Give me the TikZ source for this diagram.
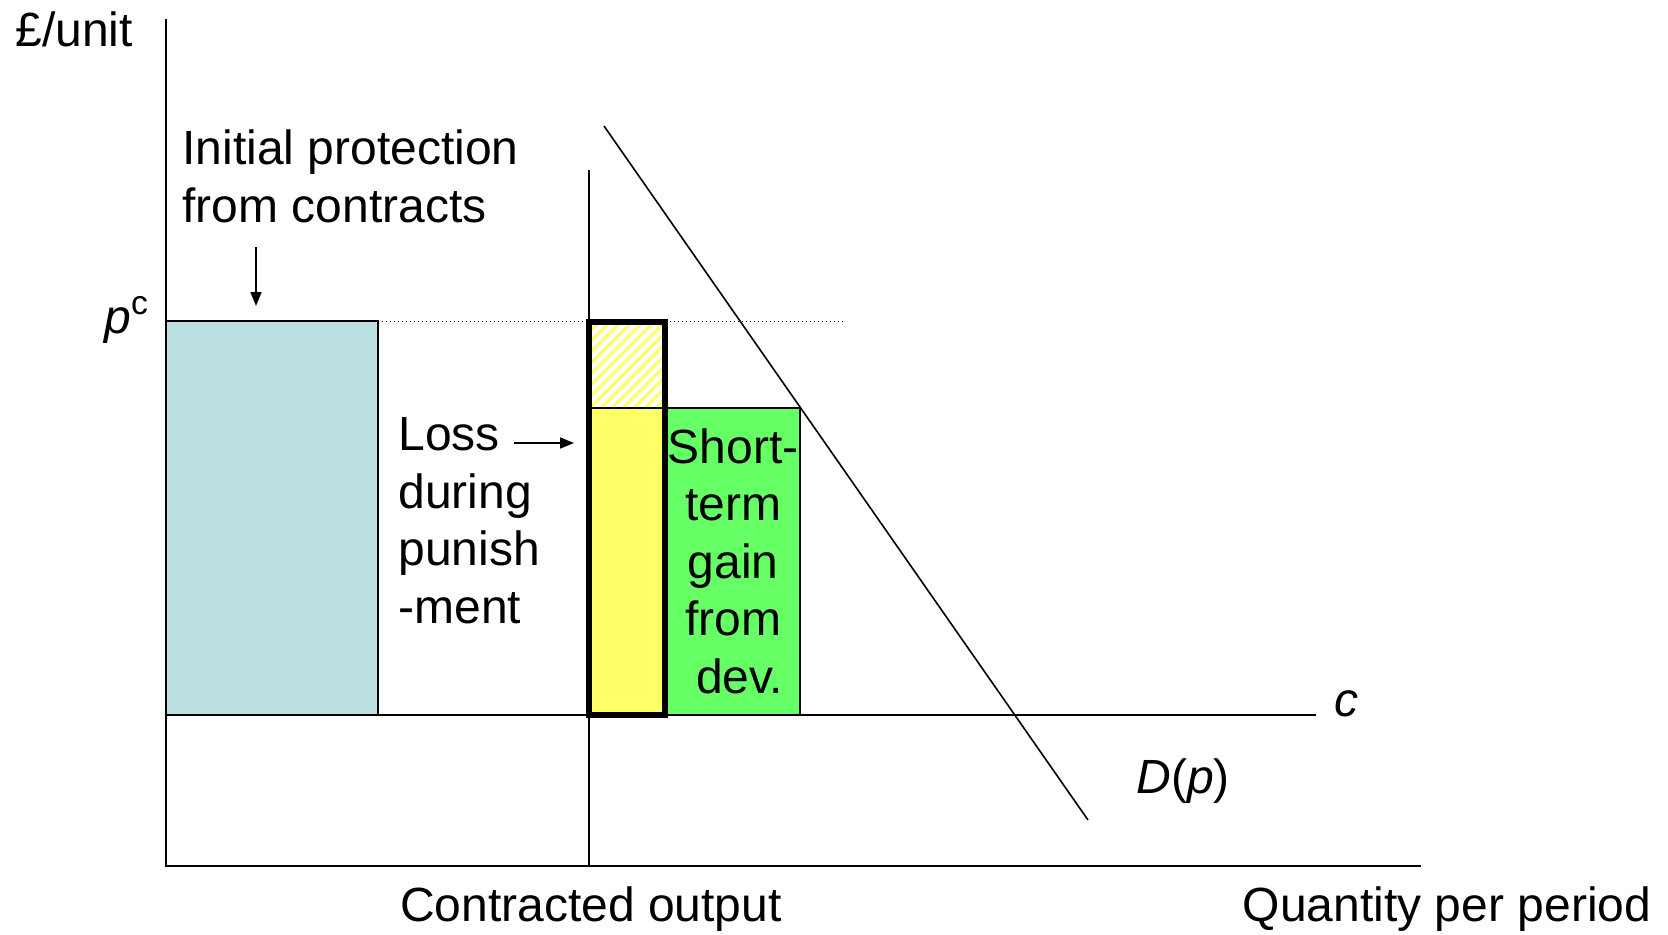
\documentclass[tikz,border=0pt]{standalone}
\usepackage{fontspec}
\setmainfont{Liberation Sans}
\usetikzlibrary{arrows.meta}

\definecolor{protblue}{HTML}{BAE0E1}
\definecolor{gaingreen}{HTML}{66FF66}
\definecolor{lossyellow}{HTML}{FFFF66}

\begin{document}
\begin{tikzpicture}[x=0.5pt,y=-0.5pt,
  axis/.style={line width=1pt},
  thinline/.style={line width=0.8pt},
  boldbox/.style={line width=2.6pt},
  guide/.style={line width=0.5pt, dash pattern=on 0.6pt off 1.4pt},
  lbl/.style={inner sep=0pt, font=\fontsize{24}{28.7}\selectfont},
  ptr/.style={line width=0.8pt,-{Triangle[length=7pt,width=5.5pt]}}
]
\useasboundingbox (0,0) rectangle (1668,934);

% key points
\coordinate (top) at (166,19);
\coordinate (origin) at (166,866);
\coordinate (xend) at (1421,866);
\coordinate (cleft) at (166,715);
\coordinate (cright) at (1316,715);
\coordinate (qtop) at (589,170);
\coordinate (qbot) at (589,866);
\coordinate (pcstart) at (378,321);
\coordinate (pcend) at (844,321);
\coordinate (dtop) at (604,126);
\coordinate (dbot) at (1088,820);

% shaded areas
\filldraw[fill=protblue, thinline] (166,321) rectangle (378,715);
\filldraw[fill=gaingreen, thinline] (665,408) rectangle (800,715);
\fill[lossyellow] (589,408) rectangle (665,715);
\begin{scope}
  \clip (589,322) rectangle (665,408);
  \foreach \k in {-12,...,12}
    \draw[lossyellow, line width=1.5pt] (589+\k*11,420) -- ++(110,-110);
\end{scope}
\draw[thinline] (589,408) -- (665,408);

% lines
\draw[axis] (top) -- (origin) -- (xend);
\draw[thinline] (cleft) -- (cright);
\draw[thinline] (qtop) -- (qbot);
\draw[guide] (pcstart) -- (pcend);
\draw[thinline] (dtop) -- (dbot);

% deviation box
\draw[boldbox] (589,322) rectangle (665,715);

% labels (multi-line nodes are anchored at the baseline of their last line)
\node[lbl, anchor=base west] (unit) at (15,46) {£/unit};
\node[lbl, anchor=base west, align=left] (init) at (182,222) {Initial protection\\from contracts};
\coordinate (initarrow) at (256,247);
\coordinate (initarrowend) at (256,306);
\draw[ptr] (initarrow) -- (initarrowend);
\node[lbl, anchor=base west] (pc) at (104,333) {\textit{p}\textsuperscript{c}};
\node[lbl, anchor=base west, align=left] (loss) at (398,623) {Loss\\during\\punish\\-ment};
\coordinate (lossarrow) at (514,443);
\coordinate (lossarrowend) at (574,443);
\draw[ptr] (lossarrow) -- (lossarrowend);
\node[lbl, anchor=base, align=center] (gain) at (733,693) {Short-\\term\\gain\\from\\\ dev.};
\node[lbl, anchor=base west] (clbl) at (1334,716) {\textit{c}};
\node[lbl, anchor=base west] (dlbl) at (1136,793) {\textit{D}(\textit{p})};
\node[lbl, anchor=base] (contracted) at (591,921) {Contracted output};
\node[lbl, anchor=base] (qty) at (1447,921) {Quantity per period};
\end{tikzpicture}
\end{document}
